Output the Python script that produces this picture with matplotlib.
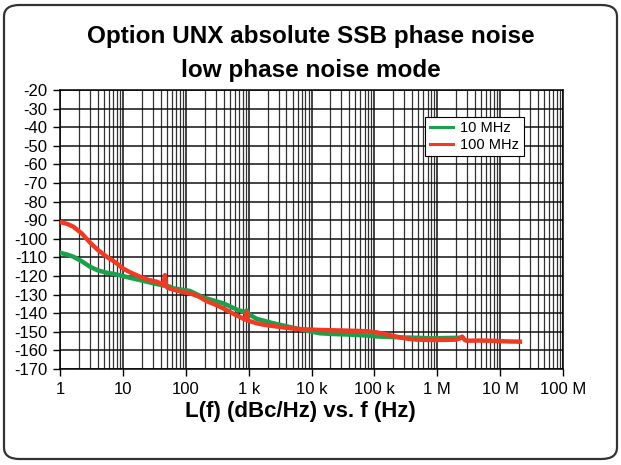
import matplotlib
matplotlib.use("Agg")
import matplotlib.pyplot as plt
from matplotlib.patches import FancyBboxPatch
from matplotlib.ticker import LogLocator, FixedLocator, NullFormatter

plt.rcParams["font.family"] = ["Liberation Sans", "DejaVu Sans"]

title_lines = ["Option UNX absolute SSB phase noise", "low phase noise mode"]
xlabel = "L(f) (dBc/Hz) vs. f (Hz)"
series_names = ["10 MHz", "100 MHz"]

x_ticks = [1, 10, 100, 1e3, 1e4, 1e5, 1e6, 1e7, 1e8]
x_ticklabels = ["1", "10", "100", "1 k", "10 k", "100 k", "1 M", "10 M", "100 M"]
y_ticks = list(range(-20, -171, -10))

f_10 = [1, 1.3, 1.63, 2.2, 3, 4, 5.5, 7.5, 10, 13, 18.8, 34, 56, 63, 116, 190,
        396, 645, 880, 930, 1000, 1340, 2460, 4000, 8300, 13600, 22100, 40000,
        75000, 108000, 254000, 468000, 862000, 1.5e6, 2.2e6]
l_10 = [-107.5, -108.5, -109.6, -112, -115, -117, -118.2, -119, -120, -121, -122.2,
        -124.3, -125.7, -126.6, -128, -131.5, -134.7, -138, -139.5, -138.5, -140.5,
        -143, -145.4, -147, -149.4, -150.8, -151.2, -151.5, -152, -152.5, -153,
        -153.2, -153.5, -153.3, -153.2]

f_100 = [1, 1.3, 1.63, 2.2, 3, 4, 5.5, 7.5, 10, 13, 18.8, 25, 34, 40, 44, 46.7, 49,
         52, 63, 85, 116, 160, 215, 300, 396, 550, 727, 880, 930, 980, 1100, 1340,
         1800, 2460, 3300, 4540, 6550, 8300, 13600, 22100, 40000, 75000, 108000,
         160000, 254000, 350000, 468000, 862000, 1.5e6, 2.0e6, 2.3e6, 2.5e6, 2.7e6,
         2.9e6, 4.6e6, 7e6, 10e6, 14e6, 20.6e6]
l_100 = [-91, -92, -93.5, -97, -102, -106, -109.6, -112.5, -115.9, -118, -120.4,
         -122, -123, -124, -125, -119.5, -125.5, -126.5, -127.2, -128.5, -129.3, -131,
         -133.5, -135.5, -137.4, -140, -142, -143.5, -139.5, -144, -144.5, -145.4,
         -146.3, -146.9, -147.5, -148.1, -148.5, -148.7, -149, -149.2, -149.4, -149.7,
         -150.3, -151.5, -153, -153.8, -154.2, -154.4, -154.3, -154.2, -153.5, -152.6,
         -154.2, -154.8, -154.7, -154.8, -155, -155.2, -155.3, -155.5]
f_100 = f_100[:len(l_100)] if len(f_100) >= len(l_100) else f_100
l_100 = l_100[:len(f_100)]

green = "#1ba14b"
red = "#ef3b24"

fig = plt.figure(figsize=(6.21, 4.65), dpi=100)
fig.patch.set_facecolor("white")
border = FancyBboxPatch((4 / 621, 6 / 465), 613 / 621, 454 / 465,
                        boxstyle="round,pad=0,rounding_size=0.025",
                        transform=fig.transFigure, facecolor="none",
                        edgecolor="#333333", linewidth=1.6, zorder=0)
fig.patches.append(border)

ax = fig.add_axes([60 / 621, 1 - 369 / 465, 503 / 621, 279 / 465])
ax.set_xscale("log")
ax.set_xlim(1, 1e8)
ax.set_ylim(-170, -20)

ax.plot(f_10, l_10, color=green, lw=3.2, label=series_names[0], zorder=3,
        solid_joinstyle="round")
ax.plot(f_100, l_100, color=red, lw=3.2, label=series_names[1], zorder=4,
        solid_joinstyle="round")

ax.xaxis.set_major_locator(FixedLocator(x_ticks))
ax.set_xticklabels(x_ticklabels)
ax.xaxis.set_minor_locator(LogLocator(base=10, subs=range(2, 10), numticks=20))
ax.xaxis.set_minor_formatter(NullFormatter())
ax.set_yticks(y_ticks)
ax.set_yticklabels([str(v) for v in y_ticks])

ax.grid(True, which="major", color="#111111", lw=1.1)
ax.grid(True, which="minor", axis="x", color="#333333", lw=0.9)
ax.set_axisbelow(True)
ax.tick_params(axis="both", which="major", direction="out", length=5, width=1,
               labelsize=12, colors="black", pad=4)
ax.tick_params(axis="x", which="minor", length=0)
for s in ax.spines.values():
    s.set_color("black")
    s.set_linewidth(1.1)

fig.text(300 / 621, 1 - 411 / 465, xlabel, ha="center", va="center",
         fontsize=16, fontweight="bold")

fig.text(0.5, 1 - 37 / 465, title_lines[0], ha="center", va="center",
         fontsize=17.5, fontweight="bold")
fig.text(0.5, 1 - 70 / 465, title_lines[1], ha="center", va="center",
         fontsize=17.5, fontweight="bold")

leg = ax.legend(loc="upper right", bbox_to_anchor=(0.922, 0.903), fontsize=10.5,
                frameon=True, fancybox=False, edgecolor="black", framealpha=1,
                handlelength=1.6, handletextpad=0.5, borderpad=0.3,
                labelspacing=0.15, borderaxespad=0)
leg.get_frame().set_linewidth(0.8)
for h in leg.get_lines():
    h.set_linewidth(2.2)

fig.savefig("out.png", dpi=100)
